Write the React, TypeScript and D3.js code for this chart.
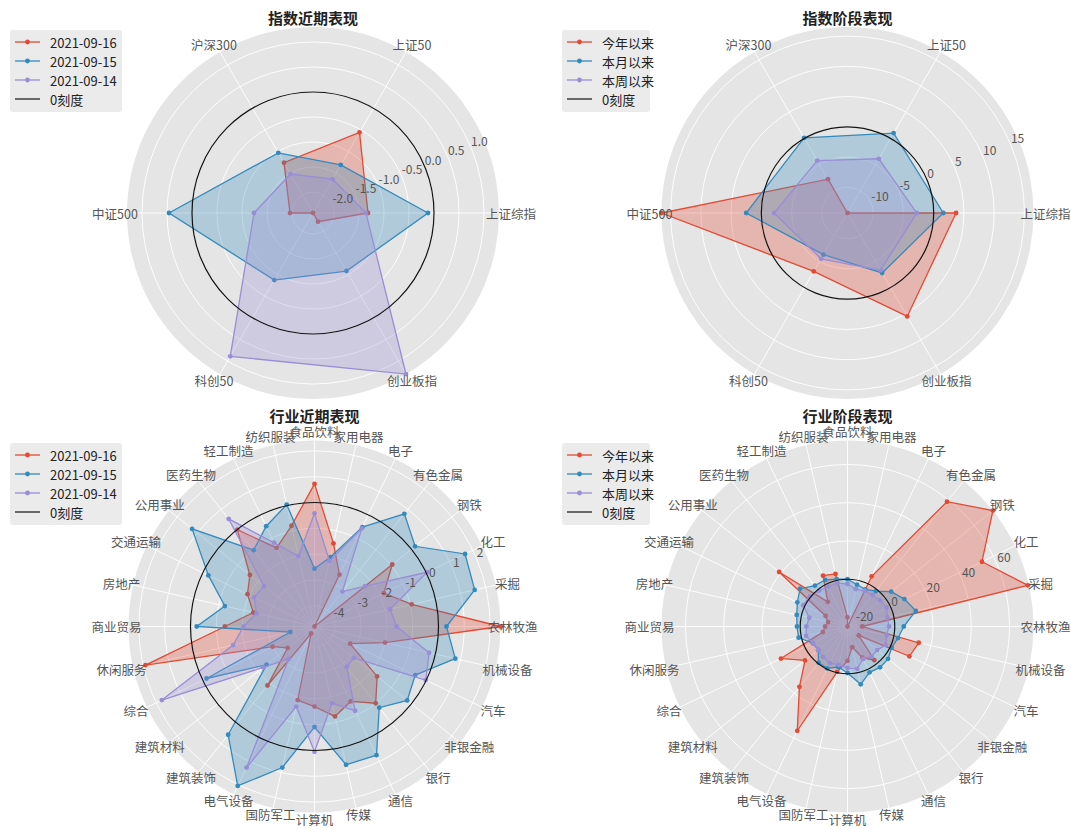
import React from "react"
import * as d3 from "d3"

// ---- data ----
const indexCats = ["上证综指", "上证50", "沪深300", "中证500", "科创50", "创业板指"]
const idxRecent0916 = [-1.32, -0.56, -1.26, -1.96, -2.42, -2.22]
const idxRecent0915 = [-0.12, -1.31, -1.03, 0.46, -0.87, -1.08]
const idxRecent0914 = [-1.36, -1.64, -1.52, -1.24, 0.89, 1.3]

const idxYtd = [3.7, -14.25, -7.8, 16.5, -3.1, 5.5]
const idxMtd = [1.6, 1.0, 0.1, 2.5, -6.3, -2.8]
const idxWtd = [-2.8, -3.9, -4.25, -2.1, -5.5, -3.3]

const industryCats = [
  "农林牧渔", "采掘", "化工", "钢铁", "有色金属", "电子", "家用电器",
  "食品饮料", "纺织服装", "轻工制造", "医药生物", "公用事业", "交通运输", "房地产",
  "商业贸易", "休闲服务", "综合", "建筑材料", "建筑装饰", "电气设备", "国防军工",
  "计算机", "传媒", "通信", "银行", "非银金融", "汽车", "机械设备",
]
const indRecent0916 = [2.4, -0.94, -1.82, -0.95, -4.8, -2.57, -1.5, 0.72, -0.8, -1.42, -0.01, -1.6, -1.92, -2.37,
  -1.33, 1.91, -3.0, -3.47, -1.88, -4.5, -1.88, -1.7, -1.23, -1.58, -1.0, -1.7, -3.27, -2.0]
const indRecent0915 = [0.31, 1.56, 1.67, 0.18, 0.78, -0.53, -2.05, -2.56, 0.04, -0.49, -1.02, 1.26, -0.24, -1.24,
  -0.24, -3.84, -0.16, -2.43, 0.56, 2.05, 0.8, -0.91, 0.69, 0.73, -0.78, -0.21, -0.47, 0.79]
const indRecent0914 = [-1.62, -1.8, 0.04, -2.3, -3.07, -0.58, -2.2, -0.42, -2.0, -1.2, 0.53, -2.3, -2.2, -2.5,
  -2.05, -1.57, 1.76, -2.26, -3.2, 1.26, -1.62, 0.05, -1.76, -1.18, -2.8, -2.85, -0.02, -0.25]

const indYtd = [-17, 72, 53.3, 72.5, 58.7, 4.4, -24.7, -19.9, 3.5, 4.8, -8.2, 21, -12, -14.3,
  -13, -11.5, 13.9, 3.7, 15.6, 35.8, -0.4, -6.7, -13.6, -6.7, -2.2, -17.2, 11.2, 13.5]
const indMtd = [4.7, 11.9, 8.3, 4.5, -1, -3.2, -2.3, 0, 0.7, 2.3, 2.6, 7.0, 4.4, 2.5,
  1.7, 1.5, -4.6, -5.1, -0.5, -0.4, -3, -0.4, 6.3, 1.9, 2.6, 2.4, 0.9, 2.4]
const indWtd = [-3.0, -3.3, -2.0, -2.8, -3.6, -4.0, -4.7, -2.5, -1.3, -1.5, -0.8, 0.5, 1.0, -4.2,
  -3.2, -2.5, -4.5, -5.0, -4.2, -3.5, -4.1, -3.0, -2.0, -5.9, -4.5, -4.9, -2.5, -3.7]

const recentNames = ["2021-09-16", "2021-09-15", "2021-09-14"]
const periodNames = ["今年以来", "本月以来", "本周以来"]
const zeroName = "0刻度"

const colors = ["#E24A33", "#348ABD", "#988ED5"]
const FONT = '"Noto Sans CJK SC", "Noto Sans", sans-serif'
const R = 186

interface PanelProps {
  title: string
  cx: number
  cy: number
  cats: string[]
  series: number[][]
  names: string[]
  tickCount: number
  fmt: (v: number) => string
  legendX: number
  legendY: number
  legendW: number
}

function Radar(p: PanelProps) {
  const [lo, hi] = d3.extent(p.series.flat()) as [number, number]
  const r = d3.scaleLinear().domain([lo, hi]).range([0, R])
  const n = p.cats.length
  const theta = (i: number) => (2 * Math.PI * i) / n

  const line = d3.lineRadial<number>()
    .angle((_, i) => Math.PI / 2 - theta(i))
    .radius(d => r(d))
    .curve(d3.curveLinearClosed)

  const ticks = r.ticks(p.tickCount)
  const la = (22.5 * Math.PI) / 180

  return (
    <g>
      <text x={p.cx} y={p.cy - (p.cy > 400 ? 211 : 196)} textAnchor="middle" dominantBaseline="central"
        fontSize={15} fontWeight="bold" fill="#222">{p.title}</text>
      <g transform={`translate(${p.cx},${p.cy})`}>
        <circle r={R} fill="#E5E5E5" />
        {ticks.map(t => (
          <circle key={t} r={r(t)} fill="none" stroke="#fff" strokeWidth={0.9} />
        ))}
        {p.cats.map((_, i) => (
          <line key={i} x1={0} y1={0} x2={R * Math.cos(theta(i))} y2={-R * Math.sin(theta(i))}
            stroke="#fff" strokeWidth={0.9} />
        ))}
        {p.series.map((s, k) => (
          <g key={k}>
            <path d={line(s) || ""} fill={colors[k]} fillOpacity={0.3} stroke={colors[k]} strokeWidth={1.3} />
            {s.map((v, i) => (
              <circle key={i} cx={r(v) * Math.cos(theta(i))} cy={-r(v) * Math.sin(theta(i))} r={2.4}
                fill={colors[k]} />
            ))}
          </g>
        ))}
        <circle r={r(0)} fill="none" stroke="#111" strokeWidth={1.2} />
        {ticks.map(t => (
          <text key={t} x={r(t) * Math.cos(la)} y={-r(t) * Math.sin(la) - 2} fontSize={12} fill="#555">
            {p.fmt(t)}
          </text>
        ))}
        {p.cats.map((c, i) => {
          const s = Math.sin(theta(i))
          const ry = s < 0 ? R + 7 : R + 9
          return (
            <text key={c} x={(R + 12) * Math.cos(theta(i))} y={-ry * s}
              textAnchor="middle" dominantBaseline="central" fontSize={12.5} fill="#555">{c}</text>
          )
        })}
      </g>
      <g transform={`translate(${p.legendX},${p.legendY})`}>
        <rect width={p.legendW} height={82} rx={3} fill="#EBEBEB" />
        {p.names.map((nm, k) => (
          <g key={nm} transform={`translate(0,${12 + k * 19})`}>
            <line x1={5} x2={30} stroke={colors[k]} strokeWidth={1.3} />
            <circle cx={17.5} r={2.4} fill={colors[k]} />
            <text x={40} dominantBaseline="central" fontSize={13} fill="#222">{nm}</text>
          </g>
        ))}
        <g transform={`translate(0,${12 + 3 * 19})`}>
          <line x1={5} x2={30} stroke="#111" strokeWidth={1.2} />
          <text x={40} dominantBaseline="central" fontSize={13} fill="#222">{zeroName}</text>
        </g>
      </g>
    </g>
  )
}

const fmt1 = (v: number) => v.toFixed(1)
const fmt0 = (v: number) => String(Math.round(v))

export default function App() {
  return (
    <svg width={1071} height={829} style={{ position: "absolute", left: 0, top: 0, background: "#fff" }}
      fontFamily={FONT}>
      <Radar title="指数近期表现" cx={313} cy={213} cats={indexCats}
        series={[idxRecent0916, idxRecent0915, idxRecent0914]} names={recentNames}
        tickCount={8} fmt={fmt1} legendX={10} legendY={30} legendW={112} />
      <Radar title="指数阶段表现" cx={847.5} cy={213} cats={indexCats}
        series={[idxYtd, idxMtd, idxWtd]} names={periodNames}
        tickCount={8} fmt={fmt0} legendX={562} legendY={30} legendW={88} />
      <Radar title="行业近期表现" cx={314.5} cy={626.5} cats={industryCats}
        series={[indRecent0916, indRecent0915, indRecent0914]} names={recentNames}
        tickCount={8} fmt={fmt0} legendX={10} legendY={443} legendW={112} />
      <Radar title="行业阶段表现" cx={847.5} cy={626.5} cats={industryCats}
        series={[indYtd, indMtd, indWtd]} names={periodNames}
        tickCount={5} fmt={fmt0} legendX={562} legendY={443} legendW={88} />
    </svg>
  )
}
